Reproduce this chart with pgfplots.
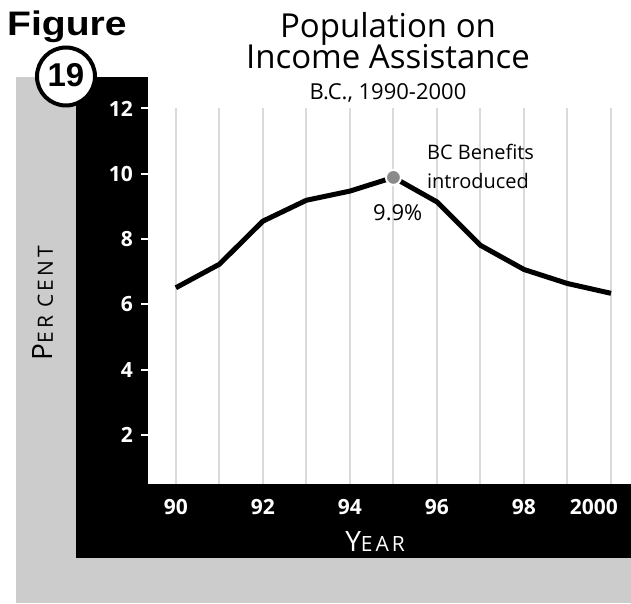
\documentclass[border=0pt]{standalone}
\usepackage{fontspec}
\setmainfont{Open Sans}
\newfontfamily\figfont{Liberation Sans}
\newfontfamily\spaced[LetterSpace=14]{Open Sans}
\usepackage{graphicx}
\usepackage{pgfplots}
\pgfplotsset{compat=1.18}

\definecolor{bgGrey}{HTML}{CCCCCC}
\definecolor{gridGrey}{HTML}{DADADA}
\definecolor{dotGrey}{HTML}{8A8A8A}

\newcommand{\fs}[1]{\fontsize{#1}{#1}\selectfont}

\begin{document}
\begin{tikzpicture}[x=1pt,y=1pt]
\useasboundingbox (0,0) rectangle (631,603);

% grey L backdrop and black L frame
\fill[bgGrey] (16,0) rectangle (76,526);
\fill[bgGrey] (16,0) rectangle (631,47);
\fill[black] (76,45) rectangle (148,526);
\fill[black] (76,45) rectangle (631,119);

\begin{axis}[
    at={(148pt,119pt)}, anchor=south west,
    scale only axis,
    width=483pt, height=375.5pt,
    xmin=1989.36, xmax=2000.46,
    ymin=0.5, ymax=12,
    axis background/.style={fill=white},
    axis line style={draw=none},
    xtick={1990,...,2000},
    xticklabels={90,,92,,94,,96,,98,,{2000\kern34pt}},
    ytick={2,4,...,12},
    ytick pos=left,
    tick align=outside,
    major tick length=7pt,
    xtick style={draw=none},
    ytick style={white, line width=2pt},
    xmajorgrids,
    grid style={gridGrey, line width=2pt},
    /pgf/number format/assume math mode=true,
    ticklabel style={font=\bfseries\fs{21}, text=white, inner sep=2pt},
    xticklabel style={yshift=-6pt},
    yticklabel style={xshift=-6pt},
    clip=false,
]
\addplot[black, line width=5pt, line join=round] coordinates {
  (1990,6.51) (1991,7.23) (1992,8.55) (1993,9.19) (1994,9.47)
  (1995,9.89) (1996,9.14) (1997,7.81) (1998,7.07) (1999,6.64)
  (2000,6.34)
};
\addplot[only marks, mark=*, mark size=7.5pt,
         mark options={fill=dotGrey, draw=white, line width=2pt}]
  coordinates {(1995,9.89)};
\node[font=\fs{22}] at (axis cs:1995.1,8.8) {9.9\%};
\node[anchor=north west, inner sep=0pt, align=left,
      font=\fontsize{20}{29}\selectfont]
  at (axis cs:1995.77,10.92) {BC Benefits\\introduced};
\end{axis}

% titles
\node[anchor=base, font=\fs{33}] at (388,565) {Population on};
\node[anchor=base, font=\fs{33}] at (388,534) {Income Assistance};
\node[anchor=base, font=\fs{22}] at (388,503) {B.C., 1990-2000};

% axis labels
\node[text=white] at (375,61) {\spaced{\fs{28}Y}{\spaced\fs{21}EAR}};
\node[rotate=90] at (43,300) {\spaced{\fs{28}P}{\spaced\fs{21}ER CENT}};

% figure badge
\node[anchor=base west, inner sep=0pt] at (7,567)
  {\scalebox{1.15}[1]{\figfont\bfseries\fs{34}Figure}};
\draw[black, line width=4pt, fill=white] (66,526.5) circle (29);
\node[font=\figfont\bfseries\fs{33}] at (66,527.5) {19};
\end{tikzpicture}
\end{document}
